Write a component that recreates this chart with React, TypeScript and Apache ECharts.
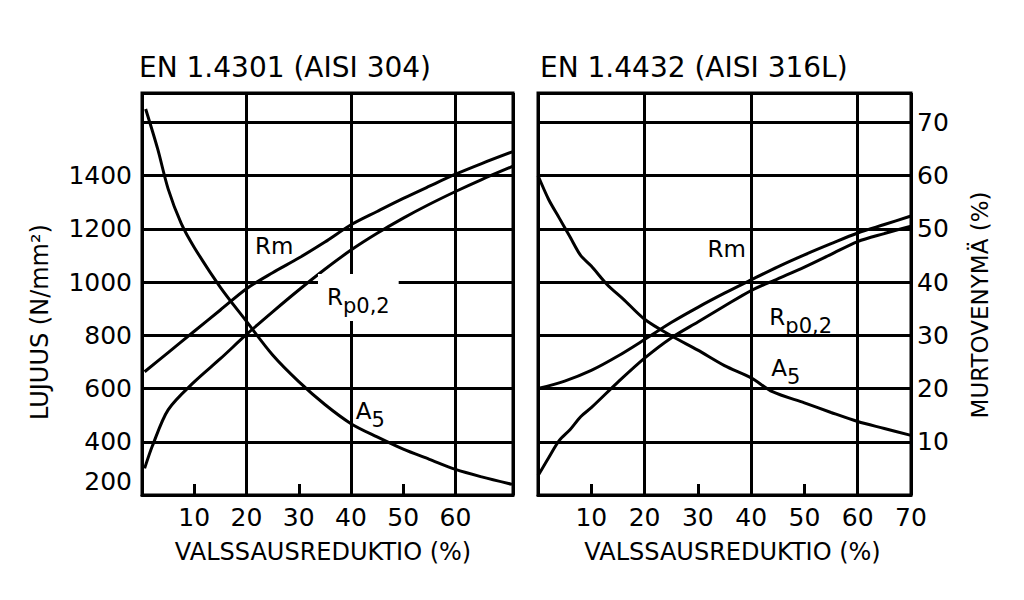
import { useEffect, useRef } from "react";
import * as echarts from "echarts";

// ---- texts / ticks ----
const titles = ["EN 1.4301 (AISI 304)", "EN 1.4432 (AISI 316L)"];
const xName = "VALSSAUSREDUKTIO (%)";
const yLeftName = "LUJUUS (N/mm²)";
const yRightName = "MURTOVENYMÄ (%)";
const strengthTicks = [200, 400, 600, 800, 1000, 1200, 1400];
const elongTicks = [10, 20, 30, 40, 50, 60, 70];
const leftXTicks = [10, 20, 30, 40, 50, 60];
const rightXTicks = [10, 20, 30, 40, 50, 60, 70];
const minorXTicks = [10, 30, 50];

// ---- EN 1.4301 (AISI 304): [reduction %, value] ----
const rm304 = [[0.5, 663], [5, 735], [10, 815], [15, 895], [20, 975], [25, 1035], [30, 1090], [35, 1150], [40, 1215], [45, 1265], [50, 1314], [55, 1360], [60, 1405], [65, 1445], [71, 1490]];
const rp304 = [[0.5, 300], [2, 385], [5, 520], [10, 625], [15, 712], [20, 803], [25, 888], [30, 970], [35, 1048], [40, 1120], [45, 1183], [50, 1240], [55, 1292], [60, 1340], [65, 1385], [71, 1435]];
const a5_304 = [[0.7, 72.5], [3, 65], [5, 57.5], [7.5, 51], [10, 46.5], [15, 39], [20, 32.6], [25, 26.3], [30, 21.3], [35, 17], [40, 13.4], [45, 10.9], [50, 8.6], [55, 6.7], [60, 4.8], [65, 3.4], [70.8, 2.0]];

// ---- EN 1.4432 (AISI 316L) ----
const rm316 = [[0, 600], [5, 628], [10, 668], [15, 722], [20, 784], [25, 848], [30, 905], [35, 958], [40, 1008], [45, 1057], [50, 1102], [55, 1144], [60, 1184], [65, 1216], [70, 1248]];
const rp316 = [[0, 272], [2, 340], [4, 405], [6, 445], [8, 494], [10, 528], [15, 624], [20, 714], [25, 790], [30, 850], [35, 910], [40, 968], [45, 1012], [50, 1056], [55, 1104], [60, 1152], [65, 1182], [70, 1210]];
const a5_316 = [[0, 60], [2, 55.5], [4, 52], [6, 48.5], [8, 45], [10, 43], [13, 39.5], [16, 36.8], [20, 33], [25, 29.9], [30, 27.2], [35, 24.3], [40, 22], [44, 19.4], [50, 17.3], [55, 15.5], [60, 13.8], [65, 12.5], [70, 11.2]];

const FONT = "DejaVu Sans";
const BLACK = "#000";

function labelPoint(coord: number[], text: string, withBg = false) {
  return {
    symbol: "circle",
    symbolSize: 0,
    silent: true,
    data: [{ coord, value: 0 }],
    label: {
      show: true,
      position: "inside",
      formatter: () => text,
      backgroundColor: withBg ? "#fff" : "transparent",
      padding: withBg ? [4, 9, 4, 9] : 0,
      rich: {
        r: { fontSize: 23, color: BLACK, fontFamily: FONT },
        s: { fontSize: 21, color: BLACK, fontFamily: FONT, padding: [18, 0, 0, 0] },
      },
    },
  };
}

function lineSeries(name: string, data: number[][], xi: number, yi: number, mp: any) {
  return {
    name,
    type: "line",
    xAxisIndex: xi,
    yAxisIndex: yi,
    data,
    symbol: "none",
    smooth: 0.3,
    lineStyle: { color: BLACK, width: 3 },
    markPoint: mp,
    z: 3,
  };
}

export default function App() {
  const ref = useRef<HTMLDivElement>(null);
  useEffect(() => {
    if (!ref.current) return;
    const chart = echarts.init(ref.current, undefined, { renderer: "svg" });
    const gridLine = { show: true, lineStyle: { color: BLACK, width: 3 } };
    const labelX = (ticks: number[]) => ({
      color: BLACK,
      fontSize: 25,
      fontFamily: FONT,
      margin: 10,
      customValues: ticks,
      formatter: (v: number) => (ticks.includes(v) ? String(v) : ""),
    });
    const xLabelAxis = (gi: number, max: number, ticks: number[], pad: number[]) => ({
      type: "value",
      gridIndex: gi,
      min: 0,
      max,
      interval: 10,
      position: "bottom",
      axisLine: { show: true, lineStyle: { color: BLACK, width: 3 } },
      axisTick: { show: true, inside: true, length: 11, customValues: minorXTicks, lineStyle: { color: BLACK, width: 3 } },
      axisLabel: labelX(ticks),
      splitLine: { show: false },
      name: xName,
      nameLocation: "middle",
      nameGap: 45,
      nameTextStyle: { fontSize: 24, color: BLACK, fontFamily: FONT, padding: pad },
    });
    const xGridAxis = (gi: number, max: number) => ({
      type: "value",
      gridIndex: gi,
      min: 0,
      max,
      interval: 20,
      position: "top",
      axisLine: { show: false },
      axisTick: { show: false },
      axisLabel: { show: false },
      splitLine: gridLine,
    });
    const option: any = {
      animation: false,
      backgroundColor: "#fff",
      textStyle: { fontFamily: FONT, color: BLACK },
      title: [
        { text: titles[0], left: 139, top: 53, padding: 0, textStyle: { fontSize: 28, fontWeight: "normal", color: BLACK, fontFamily: FONT } },
        { text: titles[1], left: 540, top: 53, padding: 0, textStyle: { fontSize: 28, fontWeight: "normal", color: BLACK, fontFamily: FONT } },
      ],
      grid: [
        { left: 142, top: 93, width: 371, height: 402, show: true, borderColor: BLACK, borderWidth: 3, backgroundColor: "transparent", containLabel: false },
        { left: 538, top: 93, width: 373, height: 402, show: true, borderColor: BLACK, borderWidth: 3, backgroundColor: "transparent", containLabel: false },
      ],
      xAxis: [
        xLabelAxis(0, 71, leftXTicks, [0, 9, 0, 0]),
        xGridAxis(0, 71),
        xLabelAxis(1, 70, rightXTicks, [0, 0, 0, 16]),
        xGridAxis(1, 70),
      ],
      yAxis: [
        {
          type: "value",
          gridIndex: 0,
          min: 200,
          max: 1710,
          interval: 200,
          position: "left",
          axisLine: { show: false },
          axisTick: { show: false },
          axisLabel: {
            color: BLACK,
            fontSize: 25,
            fontFamily: FONT,
            margin: 10,
            showMaxLabel: false,
            formatter: (v: number) => (v === 200 ? "{lo|200}" : strengthTicks.includes(v) ? String(v) : ""),
            rich: { lo: { fontSize: 25, color: BLACK, fontFamily: FONT, padding: [0, 0, 28, 0] } },
          },
          splitLine: gridLine,
          name: yLeftName,
          nameLocation: "middle",
          nameGap: 90,
          nameTextStyle: { fontSize: 24, color: BLACK, fontFamily: FONT, padding: [0, 56, 0, 0] },
        },
        { type: "value", gridIndex: 0, min: 0, max: 75.5, position: "right", show: false },
        {
          type: "value",
          gridIndex: 1,
          min: 200,
          max: 1710,
          interval: 200,
          position: "left",
          axisLine: { show: false },
          axisTick: { show: false },
          axisLabel: { show: false },
          splitLine: gridLine,
        },
        {
          type: "value",
          gridIndex: 1,
          min: 0,
          max: 75.5,
          interval: 10,
          position: "right",
          axisLine: { show: false },
          axisTick: { show: false },
          splitLine: { show: false },
          axisLabel: {
            color: BLACK,
            fontSize: 25,
            fontFamily: FONT,
            margin: 6,
            showMinLabel: false,
            showMaxLabel: false,
            formatter: (v: number) => (elongTicks.includes(v) ? String(v) : ""),
          },
          name: yRightName,
          nameLocation: "middle",
          nameGap: 57,
          nameTextStyle: { fontSize: 23, color: BLACK, fontFamily: FONT, padding: [0, 22, 0, 0] },
        },
      ],
      series: [
        lineSeries("Rm 304", rm304, 0, 0, labelPoint([25.3, 1137], "{r|Rm}")),
        lineSeries("Rp0,2 304", rp304, 0, 0, labelPoint([41.4, 942], "{r|R}{s|p0,2}", true)),
        lineSeries("A5 304", a5_304, 0, 1, labelPoint([43.7, 15.7], "{r|A}{s|5}")),
        lineSeries("Rm 316L", rm316, 2, 2, labelPoint([35.4, 1124], "{r|Rm}")),
        lineSeries("Rp0,2 316L", rp316, 2, 2, labelPoint([49.3, 868], "{r|R}{s|p0,2}")),
        lineSeries("A5 316L", a5_316, 2, 3, labelPoint([46.5, 23.9], "{r|A}{s|5}")),
      ],
    };
    chart.setOption(option);
    return () => chart.dispose();
  }, []);
  return <div ref={ref} style={{ position: "fixed", left: 0, top: 0, width: 1024, height: 600 }} />;
}
